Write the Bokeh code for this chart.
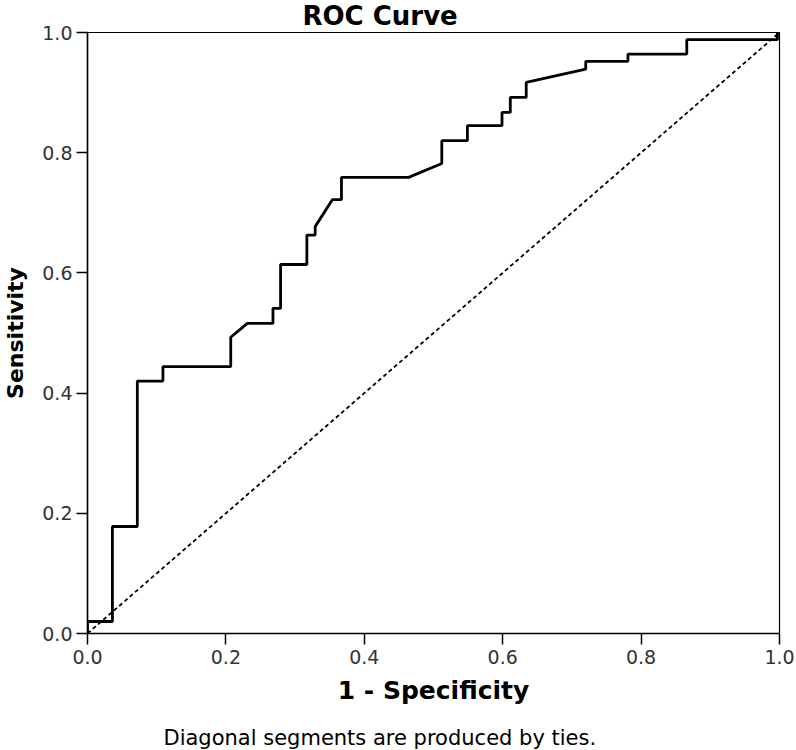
from bokeh.plotting import figure
from bokeh.models import Range1d, FixedTicker, Title, PrintfTickFormatter
from bokeh.embed import file_html
from bokeh.resources import INLINE

# ROC curve vertices (1 - specificity, sensitivity)
fpr = [0.0, 0.0, 0.036, 0.036, 0.072, 0.072, 0.109, 0.109, 0.207, 0.207,
       0.231, 0.268, 0.268, 0.279, 0.279, 0.317, 0.317, 0.329, 0.329, 0.354,
       0.367, 0.367, 0.464, 0.512, 0.512, 0.549, 0.549, 0.599, 0.599, 0.611,
       0.611, 0.634, 0.634, 0.720, 0.720, 0.781, 0.781, 0.866, 0.866, 0.997,
       0.997, 1.0]
tpr = [0.0, 0.020, 0.020, 0.178, 0.178, 0.420, 0.420, 0.444, 0.444, 0.493,
       0.516, 0.516, 0.541, 0.541, 0.614, 0.614, 0.663, 0.663, 0.677, 0.722,
       0.722, 0.759, 0.759, 0.782, 0.820, 0.820, 0.845, 0.845, 0.867, 0.867,
       0.892, 0.892, 0.917, 0.939, 0.952, 0.952, 0.964, 0.964, 0.988, 0.988,
       1.0, 1.0]
ref_x = [0.0, 1.0]
ref_y = [0.0, 1.0]
ticks = [0.0, 0.2, 0.4, 0.6, 0.8, 1.0]

FONT = "DejaVu Sans"

p = figure(width=796, height=750, output_backend="svg", toolbar_location=None,
           x_range=Range1d(0, 1), y_range=Range1d(0, 1),
           min_border_left=87, min_border_right=17, min_border_top=32,
           min_border_bottom=117)

p.title.text = "ROC Curve"
p.title.align = "left"
p.title.vertical_align = "top"
p.title.offset = 215
p.title.text_font = FONT
p.title.text_font_size = "26px"
p.title.text_font_style = "bold"
p.title.text_color = "black"
p.title.standoff = 0

p.line(ref_x, ref_y, line_color="black", line_width=1.8, line_dash="4 3")
p.line(fpr, tpr, line_color="black", line_width=2.8)

p.xgrid.visible = False
p.ygrid.visible = False
p.outline_line_color = "black"
p.outline_line_width = 1.2
p.background_fill_color = "white"
p.border_fill_color = "white"

for ax in (p.xaxis[0], p.yaxis[0]):
    ax.ticker = FixedTicker(ticks=ticks)
    ax.formatter = PrintfTickFormatter(format="%.1f")
    ax.axis_line_color = "black"
    ax.axis_line_width = 1.5
    ax.major_tick_line_color = "black"
    ax.major_tick_line_width = 1.5
    ax.major_tick_out = 11
    ax.major_tick_in = 0
    ax.minor_tick_line_color = None
    ax.major_label_text_font = FONT
    ax.major_label_text_font_size = "19px"
    ax.major_label_text_color = "#333333"
    ax.axis_label_text_font = FONT
    ax.axis_label_text_font_style = "bold"
    ax.axis_label_text_color = "black"

p.xaxis.axis_label = "1 - Specificity"
p.yaxis.axis_label = "Sensitivity"
p.xaxis.axis_label_text_font_size = "25px"
p.yaxis.axis_label_text_font_size = "22px"
p.xaxis.major_label_standoff = 5
p.yaxis.major_label_standoff = 4
p.xaxis.axis_label_standoff = 9
p.yaxis.axis_label_standoff = 11

# empty spacer line between the axis title and the footnote
spacer = Title(text="\u00a0", text_font=FONT, text_font_size="12px",
               text_color="white", standoff=0)
foot = Title(text="Diagonal segments are produced by ties.", align="left",
             offset=76, text_font=FONT, text_font_size="21px",
             text_font_style="normal", text_color="black", standoff=0)
p.add_layout(spacer, "below")
p.add_layout(foot, "below")

open("out.html", "w").write(file_html(p, INLINE))
